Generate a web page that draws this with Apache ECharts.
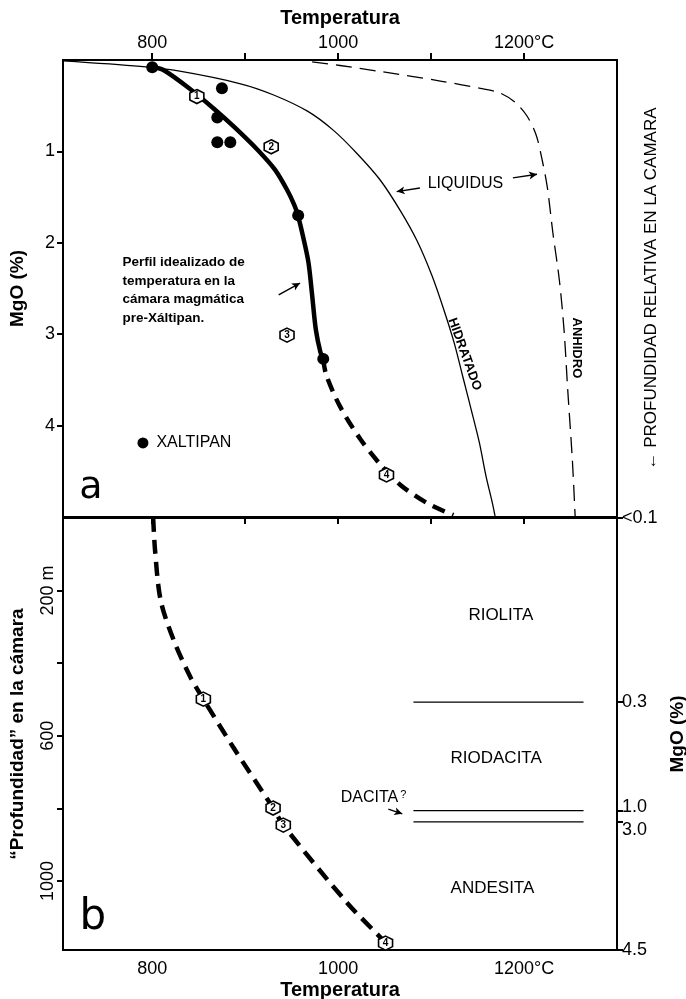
<!DOCTYPE html>
<html><head><meta charset="utf-8">
<script src="https://cdn.jsdelivr.net/npm/echarts@6/dist/echarts.min.js"></script>
<style>html,body{margin:0;padding:0;background:#fff}#c{width:686px;height:999px}</style>
</head><body><div id="c"></div><script>
// ---------- Panel a : temperature (°C) vs MgO (%) ----------
const hydratedT    = [704, 787, 828, 895, 930, 967, 995, 1020, 1045, 1067, 1085, 1101, 1113, 1125, 1134, 1143, 1152, 1159, 1166, 1169];
const hydratedMgO  = [0.01, 0.07, 0.12, 0.26, 0.38, 0.56, 0.77, 1.02, 1.31, 1.65, 1.98, 2.36, 2.71, 3.10, 3.46, 3.82, 4.19, 4.55, 4.85, 5.0];
const anhydrousT   = [972, 1002, 1048, 1110, 1153, 1174, 1190, 1203, 1213, 1219, 1225, 1231, 1238, 1243, 1247, 1252, 1255];
const anhydrousMgO = [0.02, 0.06, 0.13, 0.23, 0.31, 0.36, 0.46, 0.61, 0.82, 1.07, 1.39, 1.89, 2.41, 2.95, 3.61, 4.38, 5.0];
const profileSolidT   = [800, 812, 841, 866, 889, 914, 932, 945, 953, 957, 962, 968, 972, 976, 981, 984];
const profileSolidMgO = [0.08, 0.11, 0.32, 0.53, 0.74, 0.99, 1.20, 1.42, 1.59, 1.71, 1.92, 2.21, 2.57, 2.95, 3.20, 3.27];
const profileDashT    = [984, 987, 1002, 1024, 1045, 1067, 1096, 1124];
const profileDashMgO  = [3.27, 3.44, 3.79, 4.15, 4.42, 4.65, 4.85, 4.98];
const sampleT   = [800, 875, 870, 870, 884, 957, 984];
const sampleMgO = [0.08, 0.31, 0.63, 0.90, 0.90, 1.70, 3.27];
const hexLabels = ['1', '2', '3', '4'];
const hexT_a    = [848, 928, 945, 1052];
const hexMgO_a  = [0.40, 0.95, 3.01, 4.54];
const xaltipanT = [790];
const xaltipanMgO = [4.19];
const topTickValues = [800, 900, 1000, 1100, 1200];
const topLabelValues = [800, 1000, 1200];
const mgoTicks = [1, 2, 3, 4];

// ---------- Panel b : temperature (°C) vs "depth" (m) ----------
const depthProfileT = [801, 803, 809, 823, 841, 855, 887, 930, 941, 1010, 1051, 1055];
const depthProfileD = [0, 88, 226, 336, 438, 499, 631, 799, 846, 1061, 1171, 1190];
const hexT_b     = [855, 930, 941, 1051];
const hexDepth_b = [499, 799, 846, 1171];
const boundaryDepth = [507, 806, 837];
const boundaryT = [1081, 1264];
const depthTicks = [200, 400, 600, 800, 1000];
const depthLabels = [200, 600, 1000];
const rightTickDepth = [0, 507, 806, 837, 1190];
const rightTickLabels = ['<0.1', '0.3', '1.0', '3.0', '4.5'];

// ---------- annotation anchors (data units) ----------
const notes = {
  perfil:   { t: 768, v: 2.52, text: 'Perfil idealizado de\ntemperatura en la\ncámara magmática\npre-Xáltipan.' },
  liquidus: { t: 1137, v: 1.35, text: 'LIQUIDUS' },
  hidratado:{ t: 1136, v: 3.22, text: 'HIDRATADO' },
  anhidro:  { t: 1256, v: 3.15, text: 'ANHIDRO' },
  a:        { t: 734, v: 4.68, text: 'a' },
  riolita:  { t: 1175, v: 267, text: 'RIOLITA' },
  riodacita:{ t: 1170, v: 661, text: 'RIODACITA' },
  dacita:   { t: 1038, v: 769, text: 'DACITA{q|?}' },
  andesita: { t: 1166, v: 1019, text: 'ANDESITA' },
  b:        { t: 736, v: 1102, text: 'b' }
};
const arrowsA = [
  [[936, 2.57], [959, 2.44]],
  [[1088, 1.40], [1063, 1.44]],
  [[1188, 1.29], [1214, 1.25]]
];
const arrowsB = [
  [[1054, 802], [1069, 815]]
];

const FONT = '"Liberation Sans", Arial, sans-serif';
const pairs = (xs, ys) => xs.map((x, i) => [x, ys[i]]);
const hexPath = 'path://M50,0L93.3,25L93.3,75L50,100L6.7,75L6.7,25Z';

function textSeries(xi, yi, n, label) {
  return {
    type: 'scatter', xAxisIndex: xi, yAxisIndex: yi, symbolSize: 0, silent: true,
    itemStyle: { opacity: 1, color: '#000' },
    data: [[n.t, n.v]],
    label: Object.assign({ show: true, position: 'inside', formatter: n.text, color: '#000',
      fontFamily: FONT, fontSize: 16 }, label),
    z: 10
  };
}
function hexSeries(xi, yi, xs, ys) {
  return {
    type: 'scatter', xAxisIndex: xi, yAxisIndex: yi, symbol: hexPath, symbolSize: 14,
    itemStyle: { color: '#fff', borderColor: '#000', borderWidth: 1.6, opacity: 1 },
    data: xs.map((x, i) => ({ value: [x, ys[i]], name: hexLabels[i] })),
    label: { show: true, position: 'inside', formatter: p => p.name, fontSize: 10, fontWeight: 'bold',
      color: '#000', fontFamily: FONT },
    z: 6
  };
}
function arrowSeries(xi, yi, arr) {
  return {
    type: 'line', xAxisIndex: xi, yAxisIndex: yi, data: [], silent: true,
    markLine: {
      silent: true, symbol: ['none', 'arrow'], symbolSize: [6, 8], label: { show: false },
      lineStyle: { color: '#000', width: 1.4, type: 'solid', opacity: 1 },
      data: arr.map(a => [{ coord: a[0] }, { coord: a[1] }])
    }
  };
}
const axisLine = { show: true, lineStyle: { color: '#000', width: 2 } };
const tickStyle = { color: '#000', width: 2 };

const option = {
  animation: false,
  backgroundColor: '#fff',
  grid: [
    { left: 63, top: 60, width: 554, height: 457, show: true, borderColor: '#000', borderWidth: 2,
      outerBoundsMode: 'none', containLabel: false },
    { left: 63, top: 518, width: 554, height: 432, show: true, borderColor: '#000', borderWidth: 2,
      outerBoundsMode: 'none', containLabel: false }
  ],
  xAxis: [
    { gridIndex: 0, type: 'value', position: 'top', min: 704, max: 1300,
      name: 'Temperatura', nameLocation: 'middle', nameGap: 32,
      nameTextStyle: { fontSize: 20, fontWeight: 'bold', color: '#000', fontFamily: FONT },
      axisLine, axisTick: { show: true, customValues: topTickValues, length: 7, lineStyle: tickStyle },
      axisLabel: { customValues: topLabelValues, formatter: v => v === 1200 ? '1200°C' : String(v),
        fontSize: 18, color: '#000', margin: 8, fontFamily: FONT },
      splitLine: { show: false } },
    { gridIndex: 1, type: 'value', position: 'bottom', min: 704, max: 1300,
      name: 'Temperatura', nameLocation: 'middle', nameGap: 30,
      nameTextStyle: { fontSize: 20, fontWeight: 'bold', color: '#000', fontFamily: FONT },
      axisLine, axisTick: { show: true, customValues: topTickValues, length: 6, lineStyle: tickStyle },
      axisLabel: { customValues: topLabelValues, formatter: v => v === 1200 ? '1200°C' : String(v),
        fontSize: 18, color: '#000', margin: 10, fontFamily: FONT },
      splitLine: { show: false } }
  ],
  yAxis: [
    { gridIndex: 0, type: 'value', position: 'left', inverse: true, min: 0, max: 5,
      name: 'MgO (%)', nameLocation: 'middle', nameGap: 36, nameRotate: 90,
      nameTextStyle: { fontSize: 19, fontWeight: 'bold', color: '#000', fontFamily: FONT },
      axisLine, axisTick: { show: true, customValues: mgoTicks, length: 6, lineStyle: tickStyle },
      axisLabel: { customValues: mgoTicks, fontSize: 18, color: '#000', margin: 8, fontFamily: FONT },
      splitLine: { show: false } },
    { gridIndex: 0, type: 'value', position: 'right', inverse: true, min: 0, max: 5,
      name: '← PROFUNDIDAD RELATIVA EN LA CAMARA', nameLocation: 'middle', nameGap: 26, nameRotate: 90,
      nameTextStyle: { fontSize: 17, color: '#000', fontFamily: FONT },
      axisLine, axisTick: { show: false }, axisLabel: { show: false }, splitLine: { show: false } },
    { gridIndex: 1, type: 'value', position: 'left', inverse: true, min: 0, max: 1190,
      name: '“Profundidad” en la cámara', nameLocation: 'middle', nameGap: 36, nameRotate: 90,
      nameTextStyle: { fontSize: 19, fontWeight: 'bold', color: '#000', fontFamily: FONT },
      axisLine, axisTick: { show: true, customValues: depthTicks, length: 6, lineStyle: tickStyle },
      axisLabel: { customValues: depthLabels, rotate: 90, formatter: v => v === 200 ? '200 m' : String(v),
        fontSize: 18, color: '#000', margin: 6, fontFamily: FONT },
      splitLine: { show: false } },
    { gridIndex: 1, type: 'value', position: 'right', inverse: true, min: 0, max: 1190,
      name: 'MgO (%)', nameLocation: 'middle', nameGap: 40, nameRotate: 90,
      nameTextStyle: { fontSize: 19, fontWeight: 'bold', color: '#000', fontFamily: FONT },
      axisLine, axisTick: { show: true, customValues: rightTickDepth, length: 6, lineStyle: tickStyle },
      axisLabel: { customValues: rightTickDepth, fontSize: 18, color: '#000', margin: 5, fontFamily: FONT,
        formatter: v => {
          const i = rightTickDepth.indexOf(v); const s = rightTickLabels[i];
          if (s === '1.0') return '{up|' + s + '}';
          if (s === '3.0') return '{dn|' + s + '}';
          return s;
        },
        rich: { up: { fontSize: 18, padding: [0, 0, 8, 0] }, dn: { fontSize: 18, padding: [16, 0, 0, 0] } } },
      splitLine: { show: false } }
  ],
  series: [
    { type: 'line', xAxisIndex: 0, yAxisIndex: 0, data: pairs(hydratedT, hydratedMgO), smooth: 0.3,
      symbol: 'none', lineStyle: { color: '#000', width: 1.3 }, z: 3 },
    { type: 'line', xAxisIndex: 0, yAxisIndex: 0, data: pairs(anhydrousT, anhydrousMgO), smooth: 0.3,
      symbol: 'none', lineStyle: { color: '#000', width: 1.3, type: [16, 8] }, z: 3 },
    { type: 'line', xAxisIndex: 0, yAxisIndex: 0, data: pairs(profileSolidT, profileSolidMgO), smooth: 0.3,
      symbol: 'none', lineStyle: { color: '#000', width: 4.5 }, z: 4 },
    { type: 'line', xAxisIndex: 0, yAxisIndex: 0, data: pairs(profileDashT, profileDashMgO), smooth: 0.3,
      symbol: 'none', lineStyle: { color: '#000', width: 4.5, type: [13, 8] }, z: 4 },
    { type: 'scatter', xAxisIndex: 0, yAxisIndex: 0, data: pairs(sampleT, sampleMgO), symbolSize: 12,
      itemStyle: { color: '#000', opacity: 1 }, z: 7 },
    { type: 'scatter', xAxisIndex: 0, yAxisIndex: 0, data: pairs(xaltipanT, xaltipanMgO), symbolSize: 11,
      itemStyle: { color: '#000', opacity: 1 },
      label: { show: true, position: 'right', distance: 8, formatter: 'XALTIPAN', fontSize: 16, color: '#000', fontFamily: FONT } },
    hexSeries(0, 0, hexT_a, hexMgO_a),
    textSeries(0, 0, notes.perfil, { position: 'right', distance: 0, align: 'left', fontSize: 13.5, fontWeight: 'bold', lineHeight: 18.5 }),
    textSeries(0, 0, notes.liquidus, { fontSize: 16 }),
    textSeries(0, 0, notes.hidratado, { fontSize: 13, fontWeight: 'bold', rotate: -70 }),
    textSeries(0, 0, notes.anhidro, { fontSize: 13, fontWeight: 'bold', rotate: -90 }),
    textSeries(0, 0, notes.a, { fontSize: 38, fontFamily: '"DejaVu Sans", sans-serif' }),
    arrowSeries(0, 0, arrowsA),

    { type: 'line', xAxisIndex: 1, yAxisIndex: 2, data: pairs(depthProfileT, depthProfileD), smooth: 0.3,
      symbol: 'none', lineStyle: { color: '#000', width: 4.5, type: [14, 8] }, z: 4 },
    hexSeries(1, 2, hexT_b, hexDepth_b),
    ...boundaryDepth.map(d => ({ type: 'line', xAxisIndex: 1, yAxisIndex: 2, symbol: 'none',
      data: boundaryT.map(t => [t, d]), lineStyle: { color: '#000', width: 1.3 }, z: 3 })),
    textSeries(1, 2, notes.riolita, { fontSize: 17 }),
    textSeries(1, 2, notes.riodacita, { fontSize: 17 }),
    textSeries(1, 2, notes.dacita, { fontSize: 16, rich: { q: { fontSize: 11, color: '#000', fontFamily: FONT, padding: [0, 0, 4, 2] } } }),
    textSeries(1, 2, notes.andesita, { fontSize: 17 }),
    textSeries(1, 2, notes.b, { fontSize: 42, fontFamily: '"DejaVu Sans", sans-serif' }),
    arrowSeries(1, 2, arrowsB)
  ]
};
const chart = echarts.init(document.getElementById('c'), null, { renderer: 'canvas' });
chart.setOption(option);
</script></body></html>
